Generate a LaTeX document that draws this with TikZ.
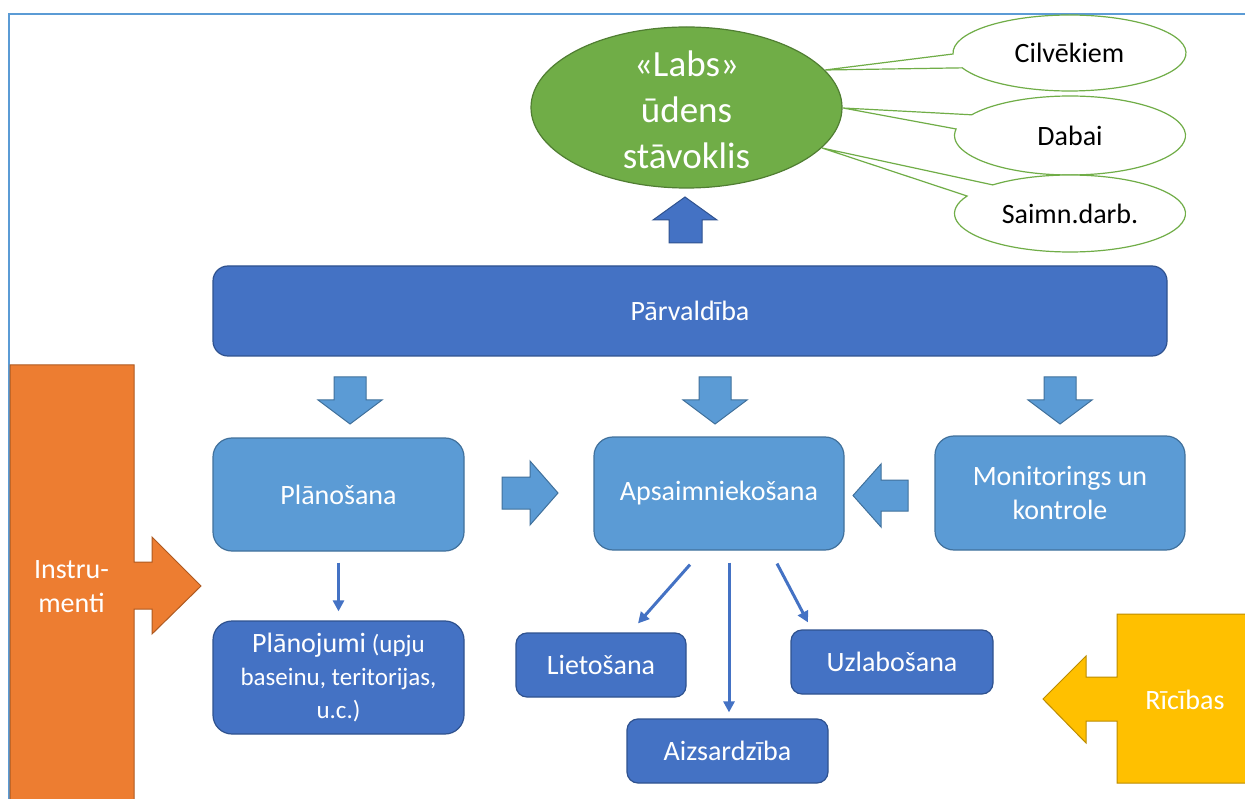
\documentclass[tikz,border=0pt]{standalone}
\usepackage{fontspec}
\setmainfont{Carlito}
\usetikzlibrary{shapes.geometric,arrows.meta}
\definecolor{dblue}{HTML}{4472C4}
\definecolor{dblueline}{HTML}{2F528F}
\definecolor{lblue}{HTML}{5B9BD5}
\definecolor{lblueline}{HTML}{41719C}
\definecolor{gfill}{HTML}{70AD47}
\definecolor{gline}{HTML}{507E32}
\definecolor{ofill}{HTML}{ED7D31}
\definecolor{oline}{HTML}{AE5A21}
\definecolor{yfill}{HTML}{FFC000}
\definecolor{yline}{HTML}{BC8C00}
\definecolor{framecol}{HTML}{5B9BD5}
\begin{document}
\begin{tikzpicture}[x=1pt,y=-1pt,
  txt/.style={font=\fontsize{28}{34}\selectfont, text=white, align=center},
  darkbox/.style={draw=dblueline, fill=dblue, line width=1.2pt, inner sep=0pt, txt},
  lightbox/.style={draw=lblueline, fill=lblue, line width=1.2pt, rounded corners=19pt, inner sep=0pt, txt},
  blockd/.style={draw=dblueline, fill=dblue, line width=1pt},
  blockl/.style={draw=lblueline, fill=lblue, line width=1pt},
  callout/.style={draw=gfill, fill=white, line width=1.2pt},
  calltxt/.style={font=\fontsize{28}{34}\selectfont, text=black},
  conn/.style={draw=dblue, line width=3pt, -{Triangle[length=11pt,width=11pt]}},
  down block/.pic={\path[blockl] (-16,0) -- (16,0) -- (16,23) -- (32,23) -- (0,47) -- (-32,23) -- (-16,23) -- cycle;}
]
\useasboundingbox (0,0) rectangle (1245,799);
\clip (0,0) rectangle (1245,799);
\fill[white] (0,0) rectangle (1245,799);

% page frame
\draw[framecol, line width=2pt] (9,805) -- (9,14) -- (1250,14);

% callouts
\path[callout] (1069.5,53) ++(178.5:116.5 and 38) arc[start angle=178.5, end angle=517, x radius=116.5, y radius=38] -- (825,70) -- cycle;
\path[callout] (1070,135.5) ++(211.6:115.5 and 39.5) arc[start angle=211.6, end angle=549.5, x radius=115.5, y radius=39.5] -- (843,108) -- cycle;
\path[callout] (1070,213.5) ++(228:115.5 and 38.5) arc[start angle=228, end angle=567, x radius=115.5, y radius=38.5] -- (822,148) -- cycle;
\node[calltxt] (cilv) at (1069.5,53) {Cilvēkiem};
\node[calltxt] (dabai) at (1070,135.5) {Dabai};
\node[calltxt] (saimn) at (1070,213.5) {Saimn.darb.};

% goal ellipse
\node[ellipse, draw=gline, fill=gfill, line width=1.2pt, minimum width=311, minimum height=161, inner sep=0pt] (goal) at (686.5,107.5) {};
\node[font=\fontsize{37}{46}\selectfont, text=white, align=center] (goaltxt) at (686.5,109.5) {«Labs»\\ūdens\\stāvoklis};

% up arrow
\path[blockd] (669,243) -- (669,220) -- (653,220) -- (685,197) -- (717,220) -- (702,220) -- (702,243) -- cycle;

% management
\node[darkbox, rounded corners=15pt, minimum width=954, minimum height=90] (parv) at (690,311) {Pārvaldība};

% down arrows
\pic at (350,377) {down block};
\pic at (715,377) {down block};
\pic at (1060,377) {down block};

% middle row
\node[lightbox, minimum width=251, minimum height=113] (plan) at (338.5,494.5) {Plānošana};
\node[lightbox, minimum width=250, minimum height=113] (aps) at (719,493.5) {Apsaimniekošana};
\node[lightbox, minimum width=250, minimum height=114] (mon) at (1060,493) {Monitorings un\\kontrole};

\path[blockl] (502,477) -- (530,477) -- (530,461) -- (558,493) -- (530,525) -- (530,509) -- (502,509) -- cycle;
\path[blockl] (908,480) -- (881,480) -- (881,464) -- (853,495.5) -- (881,527) -- (881,511) -- (908,511) -- cycle;

% lower boxes
\node[darkbox, rounded corners=19pt, minimum width=251, minimum height=113, font=\fontsize{25}{33}\selectfont] (planoj) at (338.5,677.5) {{\fontsize{28}{33}\selectfont Plānojumi} (upju\\baseinu, teritorijas,\\u.c.)};
\node[darkbox, rounded corners=11pt, minimum width=170, minimum height=64] (liet) at (601,665) {Lietošana};
\node[darkbox, rounded corners=11pt, minimum width=201, minimum height=64] (aizs) at (727.5,751) {Aizsardzība};
\node[darkbox, rounded corners=11pt, minimum width=202, minimum height=64] (uzl) at (892,662) {Uzlabošana};

% thin connectors
\draw[conn] ([yshift=-11pt]plan.south) -- ([yshift=9pt]planoj.north);
\draw[conn] ([xshift=-29pt,yshift=-14pt]aps.south) -- ([xshift=37pt,yshift=9pt]liet.north);
\draw[conn] ([xshift=10pt,yshift=-12pt]aps.south) -- ([xshift=1.5pt,yshift=6pt]aizs.north);
\draw[conn] ([xshift=58pt,yshift=-13pt]aps.south) -- ([xshift=-84pt,yshift=7pt]uzl.north);

% Instrumenti
\path[draw=oline, fill=ofill, line width=1pt] (10,810) -- (10,365) -- (134,365) -- (134,562) -- (152,562) -- (152,537) -- (201,586) -- (152,634) -- (152,609) -- (134,609) -- (134,810);
\node[txt] (instr) at (71.5,587) {Instru-\\menti};

% Ricibas
\path[draw=yline, fill=yfill, line width=1pt] (1250,614) -- (1117,614) -- (1117,677) -- (1086,677) -- (1086,656) -- (1043,699) -- (1086,743) -- (1086,721) -- (1117,721) -- (1117,783) -- (1250,783);
\node[txt] (ricibas) at (1185,700) {Rīcības};
\end{tikzpicture}
\end{document}
